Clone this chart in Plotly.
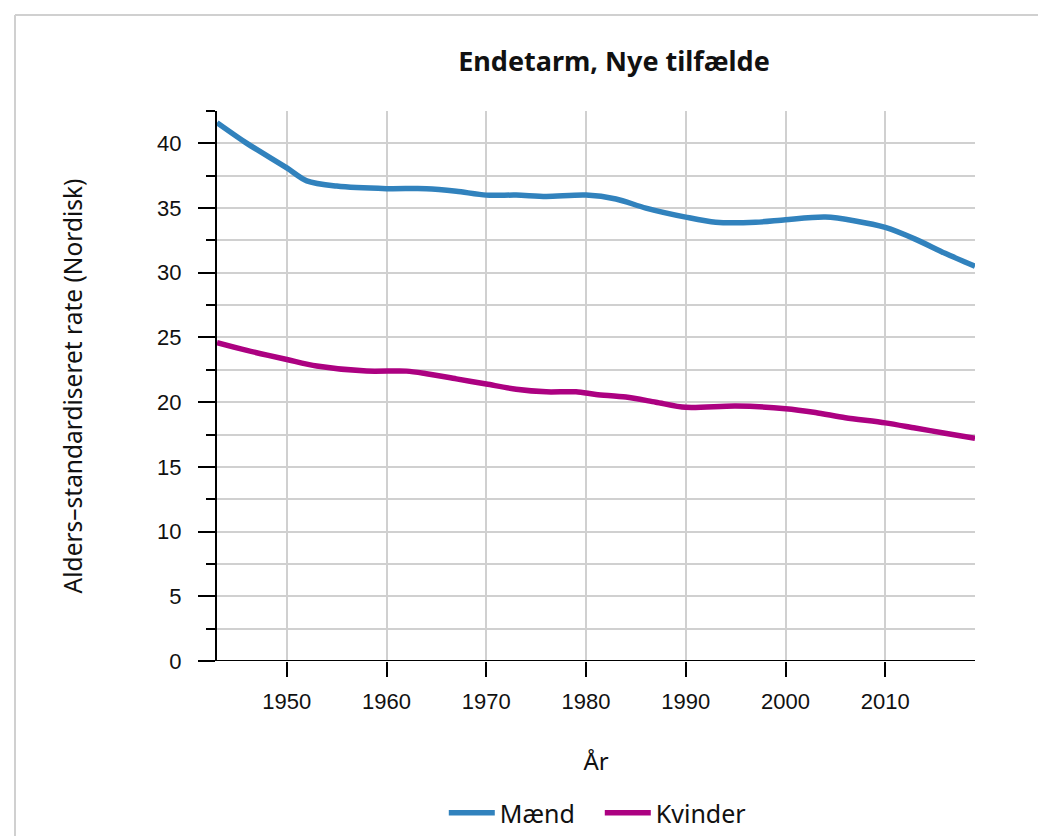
import plotly.graph_objects as go

# Data
years_maend = [1943, 1946, 1950, 1952, 1955, 1960, 1964, 1967, 1970, 1973, 1976, 1980, 1983, 1986, 1990, 1993, 1997, 2000, 2004, 2007, 2010, 2013, 2016, 2019]
rate_maend = [41.6, 40.0, 38.1, 37.1, 36.7, 36.5, 36.5, 36.3, 36.0, 36.0, 35.9, 36.0, 35.7, 35.0, 34.3, 33.9, 33.9, 34.1, 34.3, 34.0, 33.5, 32.6, 31.5, 30.5]

years_kvinder = [1943, 1946, 1950, 1953, 1958, 1962, 1964, 1967, 1970, 1973, 1976, 1979, 1981, 1984, 1987, 1990, 1995, 2000, 2003, 2006, 2010, 2013, 2016, 2019]
rate_kvinder = [24.6, 24.0, 23.3, 22.8, 22.4, 22.4, 22.2, 21.8, 21.4, 21.0, 20.8, 20.8, 20.6, 20.4, 20.0, 19.6, 19.7, 19.5, 19.2, 18.8, 18.4, 18.0, 17.6, 17.2]

x_ticks = [1950, 1960, 1970, 1980, 1990, 2000, 2010]
y_ticks = [0, 5, 10, 15, 20, 25, 30, 35, 40]

BLUE = "#3182bd"
MAGENTA = "#ac0181"
GRID = "#d0d0d0"
TEXT = "#111"

# plot area in figure pixels (the page adds an 8px body margin)
L, T, W, H = 209, 103, 758, 550

fig = go.Figure()
fig.add_trace(go.Scatter(x=years_maend, y=rate_maend, mode="lines", name="Mænd",
                         line=dict(color=BLUE, width=5.5, shape="spline", smoothing=0.8)))
fig.add_trace(go.Scatter(x=years_kvinder, y=rate_kvinder, mode="lines", name="Kvinder",
                         line=dict(color=MAGENTA, width=5.5, shape="spline", smoothing=0.8)))

fig.update_layout(
    width=1046, height=836,
    paper_bgcolor="white", plot_bgcolor="white",
    margin=dict(l=L, r=1046 - L - W, t=T, b=836 - T - H, autoexpand=False),
    title=dict(text="<b>Endetarm, Nye tilfælde</b>", x=606 / 1046, xanchor="center",
               y=1 - 54 / 836, yanchor="middle",
               font=dict(family="Noto Sans", size=27, color=TEXT)),
    legend=dict(orientation="h", x=0.505, xanchor="center",
                yref="container", y=(836 - 805) / 836, yanchor="middle",
                font=dict(family="Noto Sans", size=25, color=TEXT),
                itemwidth=46, entrywidth=95, entrywidthmode="pixels"),
    showlegend=True,
)

fig.update_xaxes(
    range=[1943, 2019], tickvals=x_ticks, ticks="outside", ticklen=15, tickwidth=2,
    tickcolor="black", showgrid=True, gridcolor=GRID, gridwidth=2, zeroline=False,
    showline=False, ticklabelstandoff=6, automargin=False,
    tickfont=dict(family="Liberation Sans, Arial", size=22, color=TEXT),
    title=dict(text="År", font=dict(family="Noto Sans", size=24, color=TEXT), standoff=39),
)
fig.update_yaxes(
    range=[0, 42.5], tickvals=y_ticks, ticks="outside", ticklen=17, tickwidth=2,
    tickcolor="black", showgrid=True, gridcolor=GRID, gridwidth=2, zeroline=False,
    showline=True, linecolor="black", linewidth=2, ticklabelstandoff=12, automargin=False,
    minor=dict(dtick=2.5, tick0=0, ticks="outside", ticklen=9, tickwidth=2, tickcolor="black",
               showgrid=True, gridcolor=GRID, gridwidth=2),
    tickfont=dict(family="Liberation Sans, Arial", size=22, color=TEXT),
    title=dict(text="Alders–standardiseret rate (Nordisk)",
               font=dict(family="Noto Sans", size=24.5, color=TEXT), standoff=68),
)

# black baseline at y = 0
fig.add_shape(type="line", xref="paper", yref="y", x0=0, x1=1, y0=0, y1=0,
              line=dict(color="black", width=2), layer="above")

# light frame around the chart (top and left edges visible)
px_x = lambda p: (p - L) / W
px_y = lambda p: (T + H - p) / H
fig.add_shape(type="line", xref="paper", yref="paper", x0=px_x(7), x1=px_x(1060),
              y0=px_y(7), y1=px_y(7), line=dict(color=GRID, width=2))
fig.add_shape(type="line", xref="paper", yref="paper", x0=px_x(7), x1=px_x(7),
              y0=px_y(7), y1=px_y(850), line=dict(color=GRID, width=2))

fig.write_html("out.html")
